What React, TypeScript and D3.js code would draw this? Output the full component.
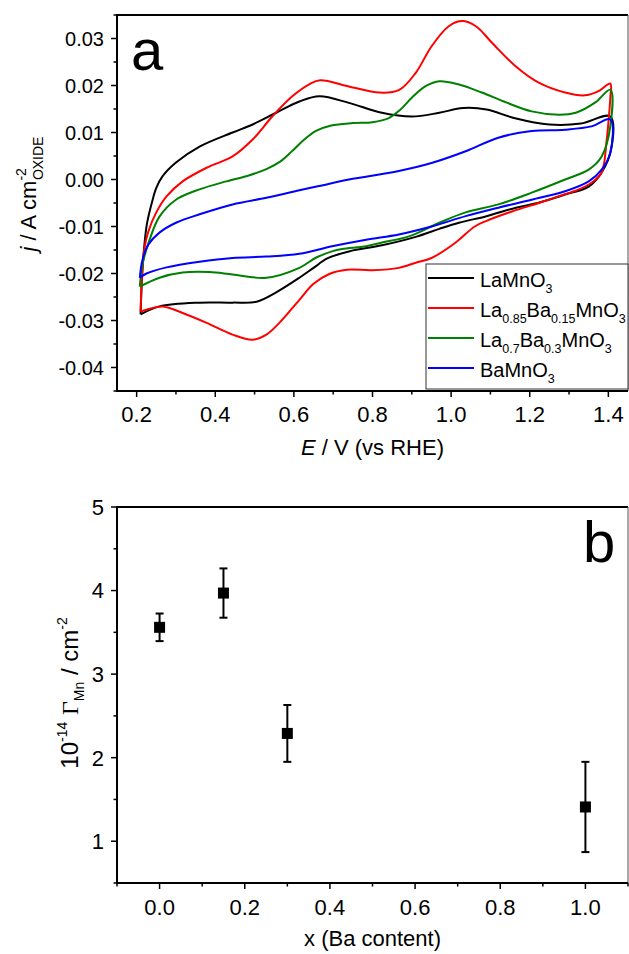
import React from 'react';
import * as d3 from 'd3';

const W = 629;
const H = 954;
const FONT = '"Liberation Sans", Arial, Helvetica, sans-serif';

// ---------- Panel a: cyclic voltammograms (E / V vs RHE, j / A cm-2) ----------
type Pt = [number, number];

const laMnO3Anodic: Pt[] = [
  [0.21, -0.0287], [0.213, -0.022], [0.218, -0.0155], [0.226, -0.0095], [0.24, -0.0045],
  [0.25, -0.0018], [0.266, 0.0007], [0.3, 0.0036], [0.36, 0.007], [0.444, 0.01],
  [0.495, 0.0117], [0.555, 0.0142], [0.614, 0.0166], [0.665, 0.0177], [0.74, 0.0163],
  [0.824, 0.0142], [0.9, 0.0134], [0.97, 0.0142], [1.03, 0.0152], [1.09, 0.0149],
  [1.16, 0.0131], [1.25, 0.0117], [1.33, 0.0119], [1.405, 0.0134],
];
const laMnO3Cathodic: Pt[] = [
  [1.408, 0.0068], [1.383, 0.0015], [1.35, -0.0015], [1.29, -0.0032], [1.22, -0.005],
  [1.165, -0.006], [1.09, -0.0078], [1.02, -0.0092], [0.97, -0.0105], [0.91, -0.0122],
  [0.824, -0.014], [0.74, -0.0153], [0.685, -0.0168], [0.65, -0.0188], [0.614, -0.0209],
  [0.555, -0.024], [0.505, -0.026], [0.444, -0.0262], [0.36, -0.0262], [0.258, -0.027],
  [0.21, -0.0287],
];

const la085Anodic: Pt[] = [
  [0.21, -0.0281], [0.214, -0.02], [0.22, -0.0145], [0.23, -0.011], [0.25, -0.007],
  [0.276, -0.0036], [0.317, -0.0004], [0.378, 0.0025], [0.444, 0.0049], [0.495, 0.0085],
  [0.545, 0.0134], [0.596, 0.0177], [0.64, 0.0203], [0.667, 0.0211], [0.74, 0.0198],
  [0.817, 0.0185], [0.867, 0.019], [0.91, 0.0227], [0.95, 0.0283], [0.994, 0.0326],
  [1.028, 0.0337], [1.063, 0.0326], [1.104, 0.0291], [1.164, 0.0241], [1.223, 0.0206],
  [1.29, 0.0185], [1.34, 0.0179], [1.375, 0.0188], [1.405, 0.0204],
];
const la085Cathodic: Pt[] = [
  [1.405, 0.0175], [1.4, 0.012], [1.395, 0.0078], [1.383, 0.0015], [1.357, -0.0007],
  [1.325, -0.0021], [1.273, -0.0036], [1.223, -0.005], [1.155, -0.0068], [1.09, -0.0088],
  [1.06, -0.01], [1.01, -0.0135], [0.95, -0.0167], [0.91, -0.0177], [0.867, -0.0188],
  [0.8, -0.0193], [0.735, -0.0192], [0.69, -0.0201], [0.65, -0.0222], [0.614, -0.0256],
  [0.563, -0.0305], [0.53, -0.033], [0.495, -0.0341], [0.444, -0.033], [0.378, -0.0305],
  [0.317, -0.0284], [0.266, -0.027], [0.225, -0.0277], [0.21, -0.0281],
];

const la07Anodic: Pt[] = [
  [0.208, -0.0228], [0.215, -0.018], [0.233, -0.0128], [0.258, -0.0079], [0.3, -0.0043],
  [0.36, -0.0021], [0.428, -0.0004], [0.487, 0.0009], [0.53, 0.0022], [0.565, 0.0038],
  [0.595, 0.006], [0.625, 0.0084], [0.655, 0.0103], [0.695, 0.0115], [0.75, 0.012],
  [0.8, 0.0122], [0.84, 0.013], [0.87, 0.0148], [0.9, 0.0174], [0.936, 0.0199],
  [0.97, 0.0209], [1.02, 0.0202], [1.078, 0.0185], [1.14, 0.0164], [1.205, 0.0145],
  [1.274, 0.0138], [1.317, 0.0142], [1.367, 0.0164], [1.405, 0.0191],
];
const la07Cathodic: Pt[] = [
  [1.405, 0.0113], [1.383, 0.0049], [1.35, 0.0021], [1.29, 0.0], [1.205, -0.0028],
  [1.12, -0.0053], [1.037, -0.007], [0.97, -0.0092], [0.893, -0.0121], [0.824, -0.0134],
  [0.784, -0.0142], [0.723, -0.0148], [0.697, -0.0153], [0.657, -0.0166], [0.614, -0.0188],
  [0.53, -0.0209], [0.444, -0.0202], [0.385, -0.0197], [0.317, -0.0198], [0.258, -0.0209],
  [0.208, -0.0228],
];

const baMnO3Anodic: Pt[] = [
  [0.208, -0.0209], [0.215, -0.017], [0.23, -0.0138], [0.258, -0.0113], [0.3, -0.0092],
  [0.36, -0.0074], [0.444, -0.0053], [0.53, -0.0039], [0.614, -0.0023], [0.664, -0.0014],
  [0.74, 0.0], [0.867, 0.0018], [0.95, 0.0035], [1.037, 0.006], [1.12, 0.0089],
  [1.205, 0.0103], [1.29, 0.0106], [1.357, 0.0113], [1.405, 0.0128],
];
const baMnO3Cathodic: Pt[] = [
  [1.405, 0.0057], [1.383, 0.0021], [1.35, -0.0004], [1.29, -0.0025], [1.205, -0.0043],
  [1.12, -0.006], [1.037, -0.0078], [0.95, -0.01], [0.867, -0.0117], [0.784, -0.0128],
  [0.697, -0.0142], [0.614, -0.0158], [0.53, -0.0164], [0.444, -0.0167], [0.36, -0.0175],
  [0.276, -0.0187], [0.225, -0.02], [0.208, -0.0209],
];

const seriesColors = ['#000000', '#ff0000', '#008000', '#0000ff'];
// legend names: [text, isSubscript]
const legendNames: [string, boolean][][] = [
  [['La', false], ['Mn', false], ['O', false], ['3', true]],
  [['La', false], ['0.85', true], ['Ba', false], ['0.15', true], ['MnO', false], ['3', true]],
  [['La', false], ['0.7', true], ['Ba', false], ['0.3', true], ['MnO', false], ['3', true]],
  [['BaMnO', false], ['3', true]],
];

const cvXTicks = [0.2, 0.4, 0.6, 0.8, 1.0, 1.2, 1.4];
const cvXMinor = [0.3, 0.5, 0.7, 0.9, 1.1, 1.3];
const cvYTicks = [-0.04, -0.03, -0.02, -0.01, 0.0, 0.01, 0.02, 0.03];
const cvYMinor = [-0.045, -0.035, -0.025, -0.015, -0.005, 0.005, 0.015, 0.025, 0.035];

// ---------- Panel b: surface Mn density vs Ba content ----------
const baContent = [0.0, 0.15, 0.3, 1.0];
const gammaMn = [3.56, 3.97, 2.29, 1.41];
const gammaErr = [0.165, 0.295, 0.34, 0.54];

const bXTicks = [0.0, 0.2, 0.4, 0.6, 0.8, 1.0];
const bXMinor = [-0.1, 0.1, 0.3, 0.5, 0.7, 0.9, 1.1];
const bYTicks = [1, 2, 3, 4, 5];
const bYMinor = [0.5, 1.5, 2.5, 3.5, 4.5];

export default function App() {
  const L = 117, R = 628;
  const aTop = 15, aBot = 391;
  const bTop = 507, bBot = 883;

  const xA = d3.scaleLinear().domain([0.15, 1.45]).range([L, R]);
  const yA = d3.scaleLinear().domain([-0.045, 0.035]).range([aBot, aTop]);
  const xB = d3.scaleLinear().domain([-0.1, 1.1]).range([L, R]);
  const yB = d3.scaleLinear().domain([0.5, 5]).range([bBot, bTop]);

  const line = d3
    .line<Pt>()
    .x((d) => xA(d[0]))
    .y((d) => yA(d[1]))
    .curve(d3.curveCatmullRom.alpha(0.5));

  const loops: Pt[][] = [
    [...laMnO3Anodic, ...laMnO3Cathodic],
    [...la085Anodic, ...la085Cathodic],
    [...la07Anodic, ...la07Cathodic],
    [...baMnO3Anodic, ...baMnO3Cathodic],
  ];

  const majorLen = 6;
  const minorLen = 3.5;

  return (
    <svg
      width={W}
      height={H}
      style={{ position: 'absolute', left: 0, top: 0, background: '#fff' }}
      fontFamily={FONT}
    >
      <rect x={0} y={0} width={W} height={H} fill="#fff" />

      {/* ================= Panel a ================= */}
      <g>
        {loops.map((pts, i) => (
          <path key={i} d={line(pts) || ''} fill="none" stroke={seriesColors[i]} strokeWidth={2} strokeLinejoin="round" />
        ))}

        {/* frame */}
        <line x1={L} x2={R} y1={aTop} y2={aTop} stroke="#000" strokeWidth={2} />
        <line x1={R} x2={R} y1={aTop} y2={aBot} stroke="#555" strokeWidth={1} />
        <line x1={L} x2={L} y1={aTop - 1} y2={aBot + 1} stroke="#000" strokeWidth={2} />
        <line x1={L - 1} x2={R} y1={aBot} y2={aBot} stroke="#000" strokeWidth={2} />

        {/* y ticks */}
        {cvYTicks.map((v) => (
          <g key={'ya' + v}>
            <line x1={L - majorLen} x2={L} y1={yA(v)} y2={yA(v)} stroke="#000" strokeWidth={1.5} />
            <text x={L - 13} y={yA(v)} dy="0.36em" textAnchor="end" fontSize={20} fill="#000">
              {v.toFixed(2)}
            </text>
          </g>
        ))}
        {cvYMinor.map((v) => (
          <line key={'yam' + v} x1={L - minorLen} x2={L} y1={yA(v)} y2={yA(v)} stroke="#000" strokeWidth={1.5} />
        ))}
        {/* x ticks */}
        {cvXTicks.map((v) => (
          <g key={'xa' + v}>
            <line x1={xA(v)} x2={xA(v)} y1={aBot} y2={aBot + majorLen} stroke="#000" strokeWidth={1.5} />
            <text x={xA(v)} y={aBot + 31} textAnchor="middle" fontSize={22} fill="#000">
              {v.toFixed(1)}
            </text>
          </g>
        ))}
        {cvXMinor.map((v) => (
          <line key={'xam' + v} x1={xA(v)} x2={xA(v)} y1={aBot} y2={aBot + minorLen} stroke="#000" strokeWidth={1.5} />
        ))}

        {/* axis titles */}
        <text x={(L + R) / 2} y={455} textAnchor="middle" fontSize={22} fill="#000">
          <tspan fontStyle="italic">E</tspan>
          <tspan> / V (vs RHE)</tspan>
        </text>
        <text transform={`translate(36,194) rotate(-90)`} textAnchor="middle" fontSize={22} fill="#000">
          <tspan fontStyle="italic">j</tspan>
          <tspan> / A cm</tspan>
          <tspan fontSize={14} dy={-10}>-2</tspan>
          <tspan fontSize={14} dx={-12} dy={17}>OXIDE</tspan>
        </text>

        {/* panel label */}
        <text x={131} y={70} fontSize={58} fill="#000">a</text>

        {/* legend */}
        <rect x={426} y={264} width={R - 426} height={125} fill="#fff" stroke="#333" strokeWidth={1} />
        {legendNames.map((parts, i) => {
          const ly = 278 + i * 30;
          return (
            <g key={'lg' + i}>
              <line x1={428} x2={474} y1={ly} y2={ly} stroke={seriesColors[i]} strokeWidth={2} />
              <text x={480} y={ly + 9} fontSize={20} fill="#000">
                {parts.map(([t, sub], k) => {
                  const prevSub = k > 0 && parts[k - 1][1];
                  const dy = sub && !prevSub ? 6 : !sub && prevSub ? -6 : 0;
                  return (
                    <tspan key={k} fontSize={sub ? 12.5 : 20} dy={dy}>
                      {t}
                    </tspan>
                  );
                })}
              </text>
            </g>
          );
        })}
      </g>

      {/* ================= Panel b ================= */}
      <g>
        {/* frame */}
        <line x1={L} x2={R} y1={bTop} y2={bTop} stroke="#000" strokeWidth={2} />
        <line x1={R} x2={R} y1={bTop} y2={bBot} stroke="#555" strokeWidth={1} />
        <line x1={L} x2={L} y1={bTop - 1} y2={bBot + 1} stroke="#000" strokeWidth={2} />
        <line x1={L - 1} x2={R} y1={bBot} y2={bBot} stroke="#000" strokeWidth={2} />

        {bYTicks.map((v) => (
          <g key={'yb' + v}>
            <line x1={L - majorLen} x2={L} y1={yB(v)} y2={yB(v)} stroke="#000" strokeWidth={1.5} />
            <text x={L - 13} y={yB(v)} dy="0.36em" textAnchor="end" fontSize={22} fill="#000">
              {String(v)}
            </text>
          </g>
        ))}
        {bYMinor.map((v) => (
          <line key={'ybm' + v} x1={L - minorLen} x2={L} y1={yB(v)} y2={yB(v)} stroke="#000" strokeWidth={1.5} />
        ))}
        {bXTicks.map((v) => (
          <g key={'xb' + v}>
            <line x1={xB(v)} x2={xB(v)} y1={bBot} y2={bBot + majorLen} stroke="#000" strokeWidth={1.5} />
            <text x={xB(v)} y={bBot + 32} textAnchor="middle" fontSize={22} fill="#000">
              {v.toFixed(1)}
            </text>
          </g>
        ))}
        {bXMinor.map((v) => (
          <line key={'xbm' + v} x1={xB(v)} x2={xB(v)} y1={bBot} y2={bBot + minorLen} stroke="#000" strokeWidth={1.5} />
        ))}

        {/* data with error bars */}
        {baContent.map((x, i) => {
          const cx = xB(x);
          const y0 = yB(gammaMn[i] - gammaErr[i]);
          const y1 = yB(gammaMn[i] + gammaErr[i]);
          return (
            <g key={'pt' + i}>
              <line x1={cx} x2={cx} y1={y0} y2={y1} stroke="#000" strokeWidth={2} />
              <line x1={cx - 4} x2={cx + 4} y1={y0} y2={y0} stroke="#000" strokeWidth={2} />
              <line x1={cx - 4} x2={cx + 4} y1={y1} y2={y1} stroke="#000" strokeWidth={2} />
              <rect x={cx - 5.5} y={yB(gammaMn[i]) - 5.5} width={11} height={11} fill="#000" />
            </g>
          );
        })}

        <text x={(L + R) / 2} y={946} textAnchor="middle" fontSize={22} fill="#000">
          x (Ba content)
        </text>
        <text transform={`translate(78,693) rotate(-90)`} textAnchor="middle" fontSize={24} fill="#000">
          <tspan>10</tspan>
          <tspan fontSize={14} dy={-11}>-14</tspan>
          <tspan dy={11}> </tspan>
          <tspan fontFamily='"Liberation Serif", "Times New Roman", serif'>Γ</tspan>
          <tspan fontSize={14} dy={6}>Mn</tspan>
          <tspan dy={-6}> / cm</tspan>
          <tspan fontSize={14} dy={-11}>-2</tspan>
        </text>

        <text x={583} y={562} fontSize={58} fill="#000">b</text>
      </g>
    </svg>
  );
}
